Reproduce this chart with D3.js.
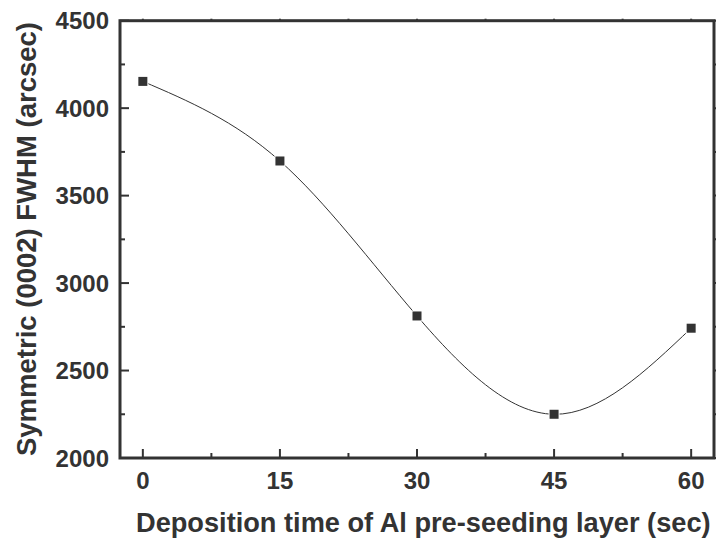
<!DOCTYPE html>
<html>
<head>
<meta charset="utf-8">
<script src="https://cdn.jsdelivr.net/npm/d3@7/dist/d3.min.js"></script>
<style>
  html, body { margin: 0; padding: 0; background: #fff; }
  svg { display: block; }
  text { font-family: "Liberation Sans", Arial, Helvetica, sans-serif; font-weight: bold; fill: #333; }
</style>
</head>
<body>
<svg id="chart" width="717" height="545"></svg>
<script>
// Data
const depositionTime = [0, 15, 30, 45, 60];
const fwhm = [4153, 3698, 2812, 2250, 2742];
const xTicks = [0, 15, 30, 45, 60];
const yTicks = [2000, 2500, 3000, 3500, 4000, 4500];
const xTitle = "Deposition time of Al pre-seeding layer (sec)";
const yTitle = "Symmetric (0002) FWHM (arcsec)";

(function () {
const pL = 120, pR = 714, pT = 20.7, pB = 458;
const ink = "#333";

const svg = d3.select("#chart");
const x = d3.scaleLinear().domain([-2.5, 62.5]).range([pL, pR]);
const y = d3.scaleLinear().domain([2000, 4500]).range([pB, pT]);

const xMinor = d3.range(0, 61, 7.5).filter(v => !xTicks.includes(v));
const yMinor = d3.range(2250, 4500, 500);

const g = svg.append("g");
function tickX(vals, len, yPos, dir) {
  g.selectAll(null).data(vals).join("line")
    .attr("x1", d => x(d)).attr("x2", d => x(d))
    .attr("y1", yPos).attr("y2", yPos + dir * len)
    .attr("stroke", ink).attr("stroke-width", 2);
}
function tickY(vals, len, xPos, dir) {
  g.selectAll(null).data(vals).join("line")
    .attr("y1", d => y(d)).attr("y2", d => y(d))
    .attr("x1", xPos).attr("x2", xPos + dir * len)
    .attr("stroke", ink).attr("stroke-width", 2);
}
tickX(xTicks, 9, pB, -1);
tickX(xMinor, 5, pB, -1);
tickY(yTicks, 9, pL, 1);
tickY(yMinor, 5, pL, 1);
tickX(xTicks.concat(xMinor), 2, pT, -1);
tickY(yTicks.concat(yMinor), 2, pR, 1);

svg.append("rect")
  .attr("x", pL).attr("y", pT)
  .attr("width", pR - pL).attr("height", pB - pT)
  .attr("fill", "none").attr("stroke", ink).attr("stroke-width", 3);

const pts = depositionTime.map((t, i) => [t, fwhm[i]]);
const line = d3.line().x(d => x(d[0])).y(d => y(d[1])).curve(d3.curveNatural);
svg.append("path").attr("d", line(pts))
  .attr("fill", "none").attr("stroke", ink).attr("stroke-width", 1);

const s = 9;
svg.selectAll(".m").data(pts).join("rect")
  .attr("class", "m")
  .attr("x", d => x(d[0]) - s / 2).attr("y", d => y(d[1]) - s / 2)
  .attr("width", s).attr("height", s)
  .attr("fill", ink).attr("stroke", "#fff").attr("stroke-width", 2)
  .attr("paint-order", "stroke");

svg.selectAll(".xl").data(xTicks).join("text")
  .attr("class", "xl")
  .attr("x", d => x(d)).attr("y", 489)
  .attr("text-anchor", "middle").attr("font-size", 24)
  .text(d => d);
svg.selectAll(".yl").data(yTicks).join("text")
  .attr("class", "yl")
  .attr("x", 109).attr("y", d => y(d))
  .attr("dy", "0.36em")
  .attr("text-anchor", "end").attr("font-size", 24)
  .text(d => d);

svg.append("text")
  .attr("x", 136).attr("y", 532)
  .attr("text-anchor", "start").attr("font-size", 27.2)
  .text(xTitle);
svg.append("text")
  .attr("transform", "translate(36,239) rotate(-90)")
  .attr("text-anchor", "middle").attr("font-size", 27.5)
  .text(yTitle);
})();
</script>
</body>
</html>
